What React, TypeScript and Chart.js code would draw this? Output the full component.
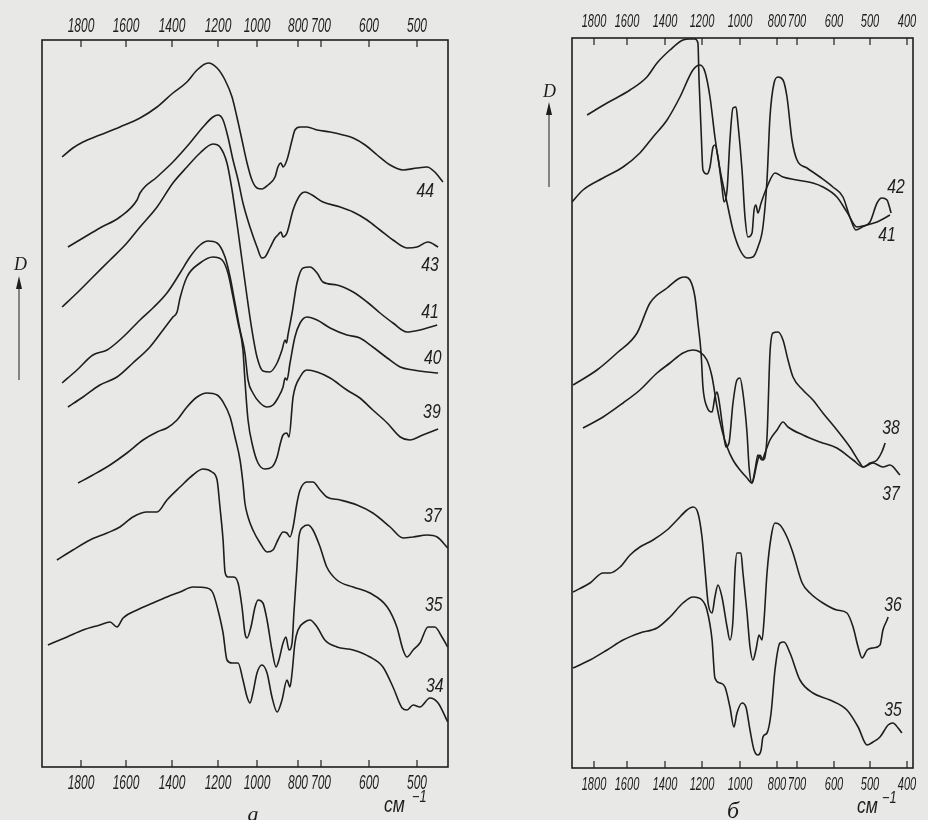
import React, { useEffect, useRef } from "react";
import { Chart, registerables } from "chart.js";
Chart.register(...registerables);

type Pt = [number, number];
type Lab = [string, number, number];

const INK = "#1e1e1e";
const PAPER = "#e8e8e6";
const SANS = "'Liberation Sans', 'DejaVu Sans', sans-serif";
const SERIF = "'Liberation Serif', 'DejaVu Serif', serif";

// ---------- panel а : printed wavenumber axis ----------
const TICKS_A = [1800, 1600, 1400, 1200, 1000, 800, 700, 600, 500];
const SCALE_A = [39, 84, 130, 176, 215, 256, 279, 327, 375]; // distance along the printed axis
const SPAN_A = 406;
const DMAX_A = 7.27;

// series [wavenumber cm-1, D]
const A44: Pt[] = [[1884,6.10],[1836,6.19],[1791,6.25],[1716,6.32],[1627,6.40],[1539,6.49],[1465,6.60],[1396,6.74],[1335,6.85],[1291,6.97],[1243,7.04],[1204,6.99],[1164,6.87],[1128,6.70],[1103,6.50],[1077,6.27],[1051,6.04],[1026,5.87],[1000,5.79],[976,5.78],[946,5.82],[912,5.90],[898,6.00],[883,6.04],[873,6.00],[854,6.07],[829,6.27],[815,6.37],[791,6.40],[761,6.40],[717,6.37],[681,6.35],[654,6.32],[633,6.29],[608,6.22],[583,6.12],[556,6.02],[529,5.97],[500,5.99],[479,6.00],[463,5.95],[446,5.85]];
const A43: Pt[] = [[1858,5.20],[1791,5.29],[1716,5.39],[1627,5.50],[1552,5.67],[1539,5.74],[1465,5.90],[1396,6.05],[1322,6.24],[1265,6.40],[1222,6.50],[1200,6.52],[1174,6.47],[1149,6.30],[1123,6.07],[1097,5.87],[1072,5.64],[1036,5.40],[1000,5.20],[976,5.09],[961,5.10],[937,5.19],[912,5.29],[898,5.32],[883,5.35],[873,5.30],[854,5.34],[824,5.57],[791,5.72],[770,5.75],[739,5.72],[696,5.65],[660,5.60],[633,5.55],[604,5.47],[577,5.37],[550,5.27],[521,5.19],[500,5.20],[477,5.25],[456,5.20]];
const A41: Pt[] = [[1884,4.60],[1818,4.74],[1747,4.90],[1671,5.07],[1596,5.24],[1539,5.40],[1465,5.60],[1396,5.84],[1335,6.00],[1278,6.14],[1222,6.23],[1190,6.20],[1154,6.04],[1128,5.77],[1103,5.44],[1077,5.07],[1051,4.70],[1026,4.37],[1000,4.10],[971,3.96],[937,3.95],[902,4.04],[878,4.17],[863,4.27],[856,4.24],[849,4.32],[829,4.54],[805,4.84],[778,4.99],[748,5.00],[717,4.94],[696,4.85],[667,4.82],[633,4.75],[604,4.65],[577,4.54],[550,4.44],[521,4.35],[494,4.37],[458,4.42]];
const A40: Pt[] = [[1884,3.84],[1818,3.97],[1747,4.12],[1684,4.17],[1613,4.30],[1539,4.47],[1483,4.59],[1422,4.74],[1365,4.94],[1322,5.10],[1278,5.22],[1243,5.26],[1204,5.24],[1164,5.10],[1138,4.90],[1113,4.64],[1087,4.37],[1062,4.14],[1046,3.87],[1021,3.74],[985,3.64],[951,3.60],[922,3.62],[898,3.69],[873,3.80],[863,3.89],[854,3.87],[839,4.04],[815,4.30],[791,4.44],[761,4.50],[717,4.47],[681,4.39],[646,4.32],[619,4.29],[592,4.20],[562,4.09],[535,4.00],[508,3.97],[479,3.95],[456,3.94]];
const A39: Pt[] = [[1858,3.60],[1791,3.70],[1716,3.82],[1640,3.90],[1570,4.04],[1496,4.20],[1439,4.37],[1396,4.50],[1378,4.55],[1365,4.69],[1335,4.90],[1278,5.04],[1222,5.10],[1179,5.07],[1149,4.94],[1123,4.70],[1097,4.44],[1072,4.17],[1062,3.87],[1046,3.47],[1021,3.20],[995,3.04],[961,2.98],[927,3.00],[902,3.10],[888,3.22],[873,3.32],[854,3.34],[844,3.30],[824,3.70],[791,3.90],[761,3.97],[717,3.95],[681,3.89],[646,3.77],[619,3.69],[592,3.57],[562,3.44],[535,3.30],[515,3.27],[488,3.32],[456,3.38]];
const A37: Pt[] = [[1813,2.84],[1747,2.92],[1671,3.02],[1596,3.14],[1526,3.27],[1465,3.35],[1422,3.39],[1378,3.47],[1335,3.60],[1291,3.70],[1248,3.74],[1204,3.72],[1174,3.65],[1138,3.50],[1113,3.30],[1087,3.07],[1072,2.84],[1062,2.64],[1046,2.50],[1021,2.37],[985,2.24],[951,2.15],[922,2.17],[898,2.27],[873,2.35],[854,2.34],[839,2.30],[824,2.40],[805,2.64],[791,2.77],[761,2.85],[735,2.85],[704,2.77],[688,2.70],[660,2.67],[625,2.62],[592,2.54],[556,2.40],[529,2.29],[508,2.30],[479,2.32],[458,2.30],[436,2.19]];
const A35: Pt[] = [[1907,2.07],[1836,2.17],[1760,2.27],[1684,2.34],[1627,2.40],[1570,2.50],[1509,2.55],[1465,2.55],[1422,2.67],[1365,2.80],[1309,2.92],[1265,2.98],[1226,2.95],[1204,2.87],[1190,2.60],[1174,2.27],[1164,1.95],[1149,1.90],[1123,1.90],[1097,1.84],[1077,1.60],[1062,1.34],[1051,1.29],[1031,1.40],[1010,1.60],[995,1.67],[971,1.64],[951,1.47],[927,1.17],[907,1.00],[893,1.07],[873,1.24],[859,1.30],[844,1.17],[829,1.24],[820,1.54],[805,2.00],[796,2.30],[778,2.40],[757,2.42],[735,2.37],[704,2.20],[688,2.00],[667,1.87],[633,1.80],[598,1.74],[562,1.60],[542,1.40],[529,1.17],[521,1.10],[508,1.17],[494,1.24],[477,1.40],[463,1.40],[448,1.30],[436,1.20]];
const A34: Pt[] = [[1947,1.22],[1862,1.30],[1791,1.37],[1716,1.42],[1671,1.45],[1640,1.40],[1613,1.49],[1552,1.57],[1483,1.64],[1422,1.70],[1365,1.75],[1309,1.80],[1248,1.79],[1222,1.74],[1200,1.57],[1174,1.34],[1154,1.07],[1128,1.04],[1097,1.04],[1072,0.87],[1051,0.70],[1036,0.64],[1021,0.74],[1000,0.94],[976,1.02],[951,0.94],[927,0.70],[902,0.55],[878,0.67],[854,0.87],[839,0.80],[829,0.94],[815,1.24],[800,1.37],[770,1.45],[748,1.47],[717,1.40],[692,1.27],[667,1.20],[633,1.17],[598,1.10],[571,1.00],[550,0.80],[531,0.59],[521,0.57],[508,0.62],[494,0.60],[473,0.69],[456,0.64],[436,0.45]];
const LABELS_A: Lab[] = [["44",483,5.76],["43",473,5.02],["41",473,4.55],["40",467,4.09],["39",469,3.55],["37",467,2.51],["35",465,1.62],["34",463,0.81]];

// ---------- panel б ----------
const TICKS_B = [1800, 1600, 1400, 1200, 1000, 800, 700, 600, 500, 400];
const SCALE_B = [22, 55, 93, 130, 168, 205, 225, 262, 298, 335];
const SPAN_B = 341;
const DMAX_B = 7.30;

const B42: Pt[] = [[1842,6.53],[1721,6.65],[1584,6.78],[1495,6.91],[1442,7.05],[1373,7.18],[1303,7.28],[1265,7.29],[1238,7.29],[1222,7.25],[1216,6.88],[1205,6.38],[1195,5.98],[1174,5.94],[1158,6.01],[1142,6.21],[1132,6.23],[1116,6.11],[1095,5.81],[1084,5.66],[1068,5.78],[1053,6.28],[1037,6.60],[1021,6.61],[1011,6.45],[989,5.98],[973,5.51],[957,5.31],[935,5.35],[924,5.58],[914,5.63],[903,5.55],[886,5.65],[854,5.81],[811,5.95],[770,5.91],[700,5.88],[657,5.85],[630,5.81],[592,5.71],[564,5.56],[536,5.41],[508,5.43],[481,5.46],[446,5.53]];
const B41: Pt[] = [[1933,5.66],[1867,5.78],[1745,5.90],[1624,6.01],[1532,6.15],[1463,6.31],[1389,6.48],[1319,6.71],[1249,6.98],[1211,7.03],[1184,6.96],[1158,6.71],[1132,6.31],[1105,5.98],[1068,5.65],[1037,5.38],[1000,5.18],[962,5.10],[930,5.11],[903,5.21],[876,5.41],[854,5.88],[838,6.51],[816,6.85],[795,6.91],[770,6.88],[750,6.71],[725,6.28],[700,6.08],[673,6.00],[638,5.91],[603,5.81],[575,5.71],[556,5.51],[539,5.38],[522,5.41],[500,5.46],[481,5.65],[468,5.70],[454,5.68],[443,5.55]];
const B38: Pt[] = [[1927,3.83],[1782,3.98],[1661,4.15],[1547,4.35],[1479,4.65],[1389,4.80],[1319,4.90],[1292,4.91],[1265,4.88],[1238,4.71],[1222,4.45],[1205,4.15],[1195,3.81],[1174,3.61],[1147,3.56],[1132,3.71],[1121,3.76],[1111,3.68],[1089,3.38],[1074,3.21],[1058,3.25],[1037,3.65],[1016,3.88],[1000,3.90],[984,3.75],[962,3.35],[951,3.01],[935,2.85],[924,2.91],[908,3.05],[892,3.13],[876,3.08],[854,3.31],[838,4.15],[822,4.35],[795,4.36],[770,4.28],[745,4.08],[720,3.91],[684,3.78],[657,3.68],[630,3.55],[592,3.38],[556,3.21],[528,3.05],[519,3.01],[500,3.05],[481,3.08],[468,3.16],[459,3.25]];
const B37: Pt[] = [[1867,3.40],[1745,3.51],[1624,3.65],[1532,3.78],[1442,3.95],[1373,4.05],[1303,4.15],[1249,4.18],[1211,4.16],[1174,4.08],[1147,3.91],[1121,3.61],[1095,3.38],[1068,3.21],[1037,3.08],[1000,2.98],[962,2.90],[935,2.85],[919,2.98],[903,3.13],[881,3.08],[865,3.15],[838,3.28],[800,3.38],[770,3.46],[745,3.41],[684,3.33],[638,3.26],[592,3.20],[547,3.08],[519,3.01],[492,3.05],[465,3.01],[446,3.03],[419,2.93]];
const B36: Pt[] = [[1927,1.76],[1824,1.85],[1745,1.95],[1703,1.95],[1642,2.01],[1584,2.13],[1532,2.21],[1463,2.28],[1389,2.38],[1335,2.48],[1281,2.58],[1249,2.61],[1222,2.55],[1200,2.31],[1184,1.98],[1168,1.65],[1147,1.55],[1132,1.71],[1116,1.83],[1095,1.71],[1068,1.41],[1053,1.28],[1037,1.48],[1026,1.98],[1016,2.15],[995,2.15],[984,1.95],[962,1.55],[946,1.21],[930,1.08],[914,1.18],[897,1.33],[881,1.28],[870,1.48],[854,1.95],[832,2.31],[811,2.45],[785,2.43],[750,2.31],[720,2.15],[686,1.85],[665,1.75],[630,1.65],[592,1.58],[564,1.55],[547,1.41],[533,1.21],[522,1.10],[508,1.18],[492,1.20],[473,1.23],[465,1.38],[454,1.48],[451,1.51]];
const B35: Pt[] = [[1927,1.00],[1824,1.08],[1721,1.18],[1624,1.28],[1532,1.35],[1442,1.40],[1373,1.51],[1303,1.65],[1249,1.71],[1200,1.68],[1174,1.58],[1147,1.28],[1132,0.90],[1105,0.85],[1079,0.81],[1053,0.61],[1032,0.41],[1016,0.55],[989,0.65],[968,0.61],[946,0.38],[924,0.18],[903,0.13],[886,0.18],[876,0.31],[854,0.35],[832,0.55],[811,0.98],[785,1.25],[765,1.26],[735,1.15],[692,0.88],[657,0.75],[611,0.68],[564,0.58],[533,0.41],[508,0.23],[492,0.26],[473,0.31],[451,0.43],[438,0.45],[424,0.40],[414,0.35]];
const LABELS_B: Lab[] = [["42",430,5.81],["41",454,5.33],["38",443,3.40],["37",443,2.74],["36",438,1.63],["35",438,0.58]];

function makeAxis(cal: number[], pos: number[]) {
  return (wn: number) => {
    const n = cal.length;
    let i = 0;
    if (wn <= cal[n - 1]) i = n - 2;
    else if (wn < cal[0]) {
      while (i < n - 2 && wn < cal[i + 1]) i++;
    }
    const t = (wn - cal[i]) / (cal[i + 1] - cal[i]);
    return pos[i] + t * (pos[i + 1] - pos[i]);
  };
}

interface Spec {
  x: number; w: number;
  padL: number; padR: number; topH: number; botH: number;
  ticks: number[]; scale: number[]; span: number; dmax: number;
  font: number; squeeze: number; labTop: number; labBot: number;
  series: Pt[][]; labels: Lab[];
  dPos: [number, number]; arrow: [number, number, number];
  letter: string; letterPos: [number, number, number];
  cmPos: [number, number, number];
}

const SPEC_A: Spec = {
  x: 0, w: 460, padL: 42, padR: 12, topH: 40, botH: 53,
  ticks: TICKS_A, scale: SCALE_A, span: SPAN_A, dmax: DMAX_A,
  font: 20, squeeze: 0.6, labTop: 26, labBot: 783,
  series: [A44, A43, A41, A40, A39, A37, A35, A34], labels: LABELS_A,
  dPos: [14, 270], arrow: [19, 276, 380],
  letter: "а", letterPos: [253, 821, 22],
  cmPos: [384, 812, 412],
};
const SPEC_B: Spec = {
  x: 500, w: 428, padL: 72, padR: 15, topH: 38, botH: 52,
  ticks: TICKS_B, scale: SCALE_B, span: SPAN_B, dmax: DMAX_B,
  font: 19, squeeze: 0.58, labTop: 22, labBot: 785,
  series: [B42, B41, B38, B37, B36, B35], labels: LABELS_B,
  dPos: [43, 97], arrow: [49, 102, 187],
  letter: "б", letterPos: [233, 818, 24],
  cmPos: [357, 813, 382],
};

function squeezed(ctx: CanvasRenderingContext2D, text: string, x: number, y: number, size: number, sx: number) {
  ctx.save();
  ctx.translate(x, y);
  ctx.scale(sx, 1);
  ctx.font = `italic ${size}px ${SANS}`;
  ctx.fillText(text, 0, 0);
  ctx.restore();
}

function Panel({ spec }: { spec: Spec }) {
  const ref = useRef<HTMLCanvasElement>(null);
  useEffect(() => {
    const toPos = makeAxis(spec.ticks, spec.scale);
    const tickPos = spec.ticks.map(toPos);
    const axis = (position: "top" | "bottom") => ({
      type: "linear" as const,
      position,
      min: 0,
      max: spec.span,
      afterBuildTicks: (s: any) => { s.ticks = tickPos.map((v) => ({ value: v })); },
      afterFit: (s: any) => { s.height = position === "top" ? spec.topH : spec.botH; },
      grid: { display: false, drawTicks: false },
      border: { display: false },
      ticks: {
        display: false,
        autoSkip: false, maxRotation: 0, minRotation: 0,
        callback: (v: any) => {
          const i = tickPos.findIndex((p) => Math.abs(p - Number(v)) < 0.01);
          return i >= 0 ? String(spec.ticks[i]) : "";
        },
      },
    });
    const decor = {
      id: "decor",
      afterDatasetsDraw(chart: any) {
        const { ctx, chartArea } = chart;
        const { left, right, top, bottom } = chartArea;
        const xs = chart.scales.x, ys = chart.scales.y;
        ctx.save();
        ctx.strokeStyle = INK;
        ctx.fillStyle = INK;
        ctx.lineWidth = 1.6;
        ctx.strokeRect(left, top, right - left, bottom - top);
        ctx.lineWidth = 1.2;
        ctx.textAlign = "center";
        ctx.textBaseline = "middle";
        for (const id of ["x", "xTop"]) {
          const s = chart.scales[id];
          for (const t of s.ticks) {
            const px = s.getPixelForValue(t.value);
            ctx.beginPath();
            if (id === "x") { ctx.moveTo(px, bottom); ctx.lineTo(px, bottom - 7); }
            else { ctx.moveTo(px, top); ctx.lineTo(px, top + 7); }
            ctx.stroke();
            const label = t.label ?? "";
            squeezed(ctx, String(label), px, id === "x" ? spec.labBot : spec.labTop, spec.font, spec.squeeze);
          }
        }
        for (const [txt, wn, d] of spec.labels) {
          squeezed(ctx, txt, xs.getPixelForValue(toPos(wn)), ys.getPixelForValue(d), 21, 0.75);
        }
        // D and arrow
        ctx.textAlign = "left";
        ctx.textBaseline = "alphabetic";
        ctx.font = `italic 18px ${SERIF}`;
        ctx.fillText("D", spec.dPos[0], spec.dPos[1]);
        const [ax, ay0, ay1] = spec.arrow;
        ctx.lineWidth = 1;
        ctx.beginPath(); ctx.moveTo(ax, ay0 + 10); ctx.lineTo(ax, ay1); ctx.stroke();
        ctx.beginPath(); ctx.moveTo(ax, ay0); ctx.lineTo(ax - 3, ay0 + 13); ctx.lineTo(ax + 3, ay0 + 13); ctx.closePath(); ctx.fill();
        // caption letter
        const [lx, ly, ls] = spec.letterPos;
        ctx.font = `italic ${ls}px ${SERIF}`;
        ctx.textAlign = "center";
        ctx.fillText(spec.letter, lx, ly);
        // cm-1
        const [cx, cy, sx] = spec.cmPos;
        ctx.textAlign = "left";
        squeezed(ctx, "см", cx, cy, 22, 0.8);
        squeezed(ctx, "−1", sx, cy - 10, 16, 0.8);
        ctx.restore();
      },
    };
    const chart = new Chart(ref.current!, {
      type: "line",
      data: {
        datasets: spec.series.map((pts, k) => ({
          label: String(k),
          data: pts.map(([wn, d]) => ({ x: toPos(wn), y: d })),
          borderColor: INK,
          borderWidth: 1.6,
          pointRadius: 0,
          fill: false,
          cubicInterpolationMode: "monotone" as const,
        })),
      },
      options: {
        responsive: false,
        animation: false,
        events: [],
        layout: { padding: { left: spec.padL, right: spec.padR, top: 0, bottom: 0 } },
        plugins: { legend: { display: false }, tooltip: { enabled: false } },
        scales: {
          x: axis("bottom"),
          xTop: axis("top"),
          y: { type: "linear", display: false, min: 0, max: spec.dmax },
        },
      } as any,
      plugins: [decor],
    });
    return () => chart.destroy();
  }, [spec]);
  return (
    <canvas
      ref={ref}
      width={spec.w}
      height={820}
      style={{ position: "absolute", left: spec.x, top: 0, width: spec.w, height: 820 }}
    />
  );
}

export default function App() {
  return (
    <div style={{ position: "absolute", left: 0, top: 0, width: 928, height: 820, background: PAPER, overflow: "hidden" }}>
      <Panel spec={SPEC_A} />
      <Panel spec={SPEC_B} />
    </div>
  );
}
